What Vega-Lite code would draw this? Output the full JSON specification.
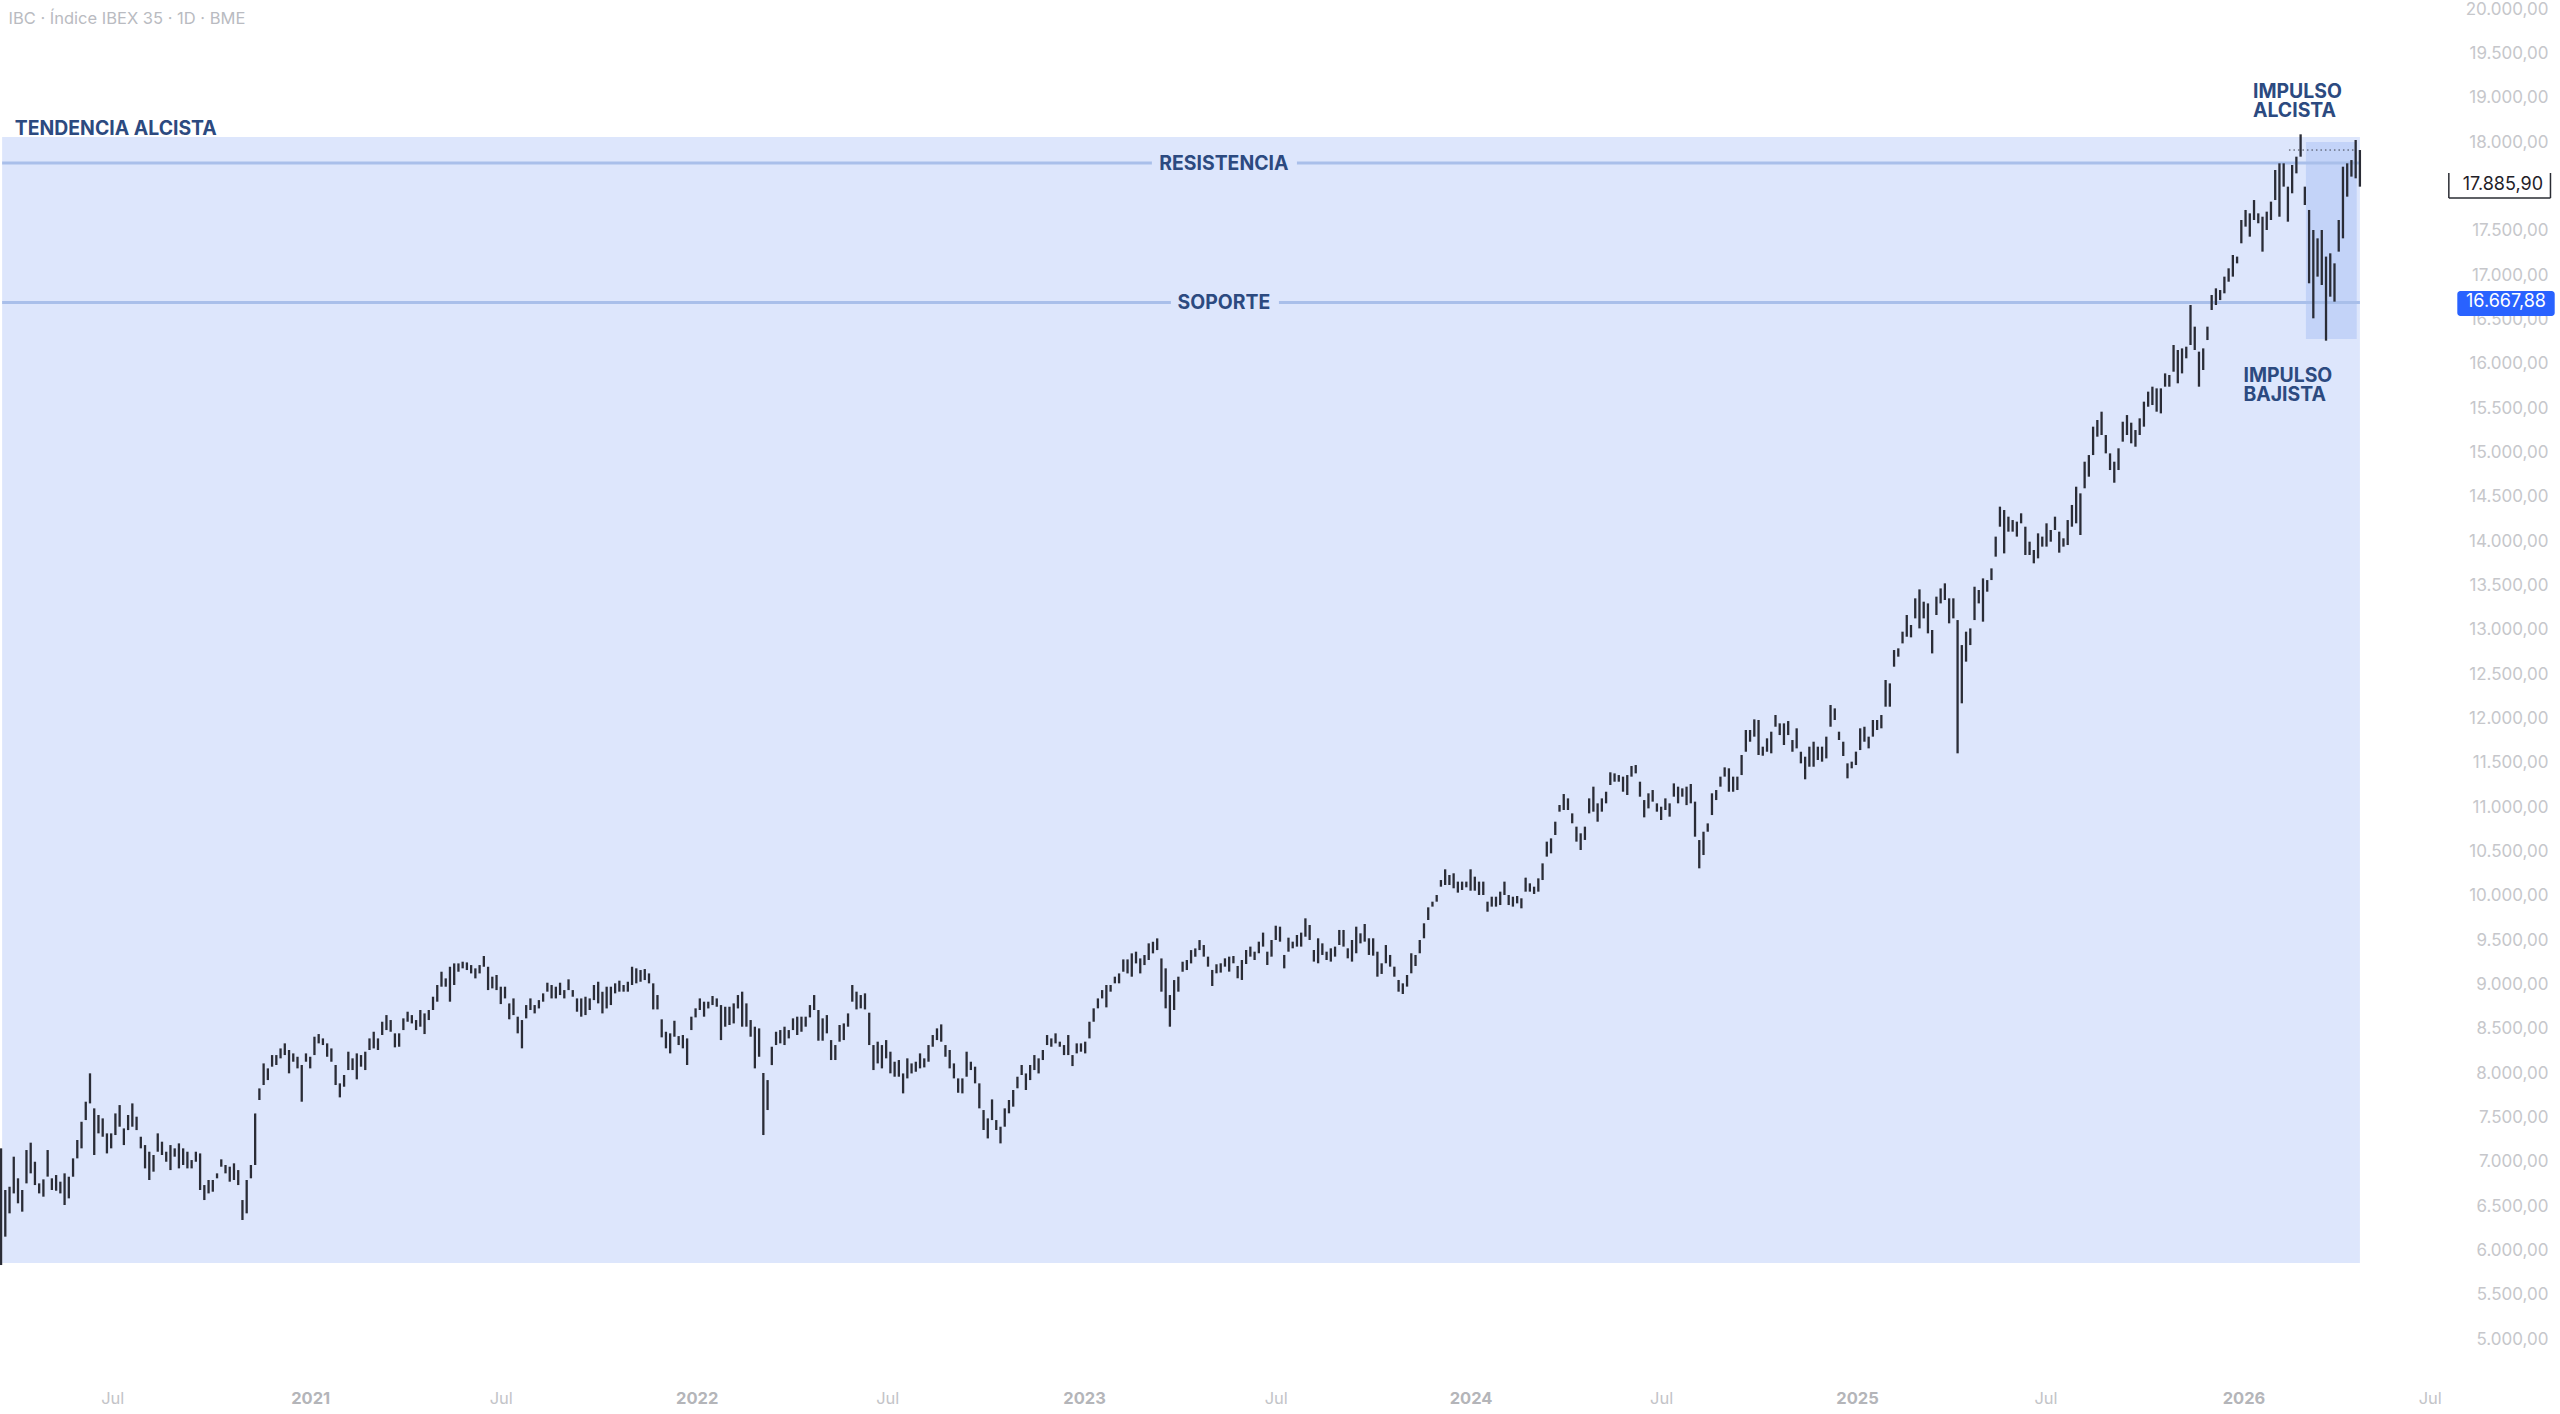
{
"$schema":"https://vega.github.io/schema/vega-lite/v6.json",
"width":2560,"height":1414,"padding":0,"autosize":{"type":"none"},"background":"#ffffff",
"config":{"view":{"stroke":null},"locale":{"number":{"decimal":",","thousands":".","grouping":[3],"currency":["","€"]}},"text":{"font":"Inter"},"axis":{"labelFont":"Inter"}},
"datasets":{"candles":[
{"t":"2020-03-15","lo":5812,"hi":7128},{"t":"2020-03-19","lo":6132,"hi":6658},{"t":"2020-03-23","lo":6395,"hi":6695},{"t":"2020-03-27","lo":6620,"hi":7034},{"t":"2020-03-31","lo":6508,"hi":6790},{"t":"2020-04-04","lo":6414,"hi":6658},{"t":"2020-04-08","lo":6733,"hi":7109},{"t":"2020-04-12","lo":6846,"hi":7192},{"t":"2020-04-16","lo":6714,"hi":6977},{"t":"2020-04-20","lo":6620,"hi":6733},{"t":"2020-04-24","lo":6583,"hi":6778},{"t":"2020-04-28","lo":6809,"hi":7109},
{"t":"2020-05-02","lo":6658,"hi":6790},{"t":"2020-05-06","lo":6650,"hi":6827},{"t":"2020-05-10","lo":6620,"hi":6752},{"t":"2020-05-14","lo":6489,"hi":6846},{"t":"2020-05-18","lo":6564,"hi":6808},{"t":"2020-05-22","lo":6808,"hi":7015},{"t":"2020-05-26","lo":7015,"hi":7222},{"t":"2020-05-30","lo":7128,"hi":7428},{"t":"2020-06-03","lo":7447,"hi":7654},{"t":"2020-06-07","lo":7635,"hi":7974},{"t":"2020-06-11","lo":7053,"hi":7579},{"t":"2020-06-15","lo":7297,"hi":7504},{"t":"2020-06-19","lo":7259,"hi":7466},{"t":"2020-06-23","lo":7071,"hi":7297},{"t":"2020-06-27","lo":7128,"hi":7297},
{"t":"2020-07-01","lo":7278,"hi":7522},{"t":"2020-07-05","lo":7372,"hi":7616},{"t":"2020-07-09","lo":7165,"hi":7353},{"t":"2020-07-13","lo":7334,"hi":7504},{"t":"2020-07-17","lo":7372,"hi":7635},{"t":"2020-07-21","lo":7334,"hi":7485},{"t":"2020-07-25","lo":7128,"hi":7259},{"t":"2020-07-29","lo":6902,"hi":7165},{"t":"2020-08-02","lo":6771,"hi":7090},{"t":"2020-08-06","lo":6865,"hi":7053},{"t":"2020-08-10","lo":7090,"hi":7297},{"t":"2020-08-14","lo":7053,"hi":7203},{"t":"2020-08-18","lo":6977,"hi":7090},{"t":"2020-08-22","lo":6883,"hi":7165},{"t":"2020-08-26","lo":7034,"hi":7128},{"t":"2020-08-30","lo":6902,"hi":7184},
{"t":"2020-09-03","lo":6940,"hi":7128},{"t":"2020-09-07","lo":6902,"hi":7090},{"t":"2020-09-11","lo":6902,"hi":6996},{"t":"2020-09-15","lo":6977,"hi":7090},{"t":"2020-09-19","lo":6658,"hi":7071},{"t":"2020-09-23","lo":6545,"hi":6714},{"t":"2020-09-27","lo":6620,"hi":6771},{"t":"2020-10-01","lo":6639,"hi":6771},{"t":"2020-10-05","lo":6790,"hi":6846},{"t":"2020-10-09","lo":6921,"hi":7004},{"t":"2020-10-13","lo":6846,"hi":6940},{"t":"2020-10-17","lo":6752,"hi":6921},{"t":"2020-10-21","lo":6771,"hi":6959},{"t":"2020-10-25","lo":6714,"hi":6883},{"t":"2020-10-29","lo":6320,"hi":6545},
{"t":"2020-11-02","lo":6395,"hi":6771},{"t":"2020-11-06","lo":6790,"hi":6940},{"t":"2020-11-10","lo":6940,"hi":7522},{"t":"2020-11-14","lo":7673,"hi":7804},{"t":"2020-11-18","lo":7842,"hi":8086},{"t":"2020-11-22","lo":7898,"hi":8030},{"t":"2020-11-26","lo":8049,"hi":8180},{"t":"2020-11-30","lo":8068,"hi":8180},{"t":"2020-12-04","lo":8143,"hi":8255},{"t":"2020-12-08","lo":8180,"hi":8312},{"t":"2020-12-12","lo":7974,"hi":8237},{"t":"2020-12-16","lo":8105,"hi":8199},{"t":"2020-12-20","lo":8030,"hi":8161},{"t":"2020-12-24","lo":7654,"hi":8068},{"t":"2020-12-28","lo":8105,"hi":8199},
{"t":"2021-01-01","lo":8030,"hi":8161},{"t":"2021-01-05","lo":8180,"hi":8387},{"t":"2021-01-09","lo":8312,"hi":8417},{"t":"2021-01-13","lo":8293,"hi":8368},{"t":"2021-01-17","lo":8161,"hi":8312},{"t":"2021-01-21","lo":8105,"hi":8255},{"t":"2021-01-25","lo":7842,"hi":8068},{"t":"2021-01-29","lo":7703,"hi":7861},{"t":"2021-02-02","lo":7823,"hi":7955},{"t":"2021-02-06","lo":8011,"hi":8218},{"t":"2021-02-10","lo":8011,"hi":8143},{"t":"2021-02-14","lo":7906,"hi":8199},{"t":"2021-02-18","lo":8049,"hi":8180},{"t":"2021-02-22","lo":8011,"hi":8218},{"t":"2021-02-26","lo":8237,"hi":8368},
{"t":"2021-03-02","lo":8255,"hi":8443},{"t":"2021-03-06","lo":8237,"hi":8368},{"t":"2021-03-10","lo":8406,"hi":8556},{"t":"2021-03-14","lo":8462,"hi":8631},{"t":"2021-03-18","lo":8443,"hi":8575},{"t":"2021-03-22","lo":8267,"hi":8425},{"t":"2021-03-26","lo":8274,"hi":8425},{"t":"2021-03-30","lo":8462,"hi":8594},{"t":"2021-04-03","lo":8556,"hi":8669},{"t":"2021-04-07","lo":8537,"hi":8631},{"t":"2021-04-11","lo":8462,"hi":8575},{"t":"2021-04-15","lo":8500,"hi":8688},{"t":"2021-04-19","lo":8417,"hi":8650},{"t":"2021-04-23","lo":8575,"hi":8688},{"t":"2021-04-27","lo":8688,"hi":8838},
{"t":"2021-05-01","lo":8782,"hi":8970},{"t":"2021-05-05","lo":8951,"hi":9120},{"t":"2021-05-09","lo":8951,"hi":9045},{"t":"2021-05-13","lo":8782,"hi":9176},{"t":"2021-05-17","lo":8970,"hi":9214},{"t":"2021-05-21","lo":9120,"hi":9214},{"t":"2021-05-25","lo":9158,"hi":9233},{"t":"2021-05-29","lo":9139,"hi":9225},{"t":"2021-06-02","lo":9101,"hi":9195},{"t":"2021-06-06","lo":9045,"hi":9158},{"t":"2021-06-10","lo":9101,"hi":9195},{"t":"2021-06-14","lo":9176,"hi":9297},{"t":"2021-06-18","lo":8913,"hi":9176},{"t":"2021-06-22","lo":8932,"hi":9064},{"t":"2021-06-26","lo":8913,"hi":9083},{"t":"2021-06-30","lo":8755,"hi":8951},
{"t":"2021-07-04","lo":8819,"hi":8951},{"t":"2021-07-08","lo":8583,"hi":8763},{"t":"2021-07-12","lo":8631,"hi":8819},{"t":"2021-07-16","lo":8425,"hi":8613},{"t":"2021-07-20","lo":8256,"hi":8575},{"t":"2021-07-24","lo":8594,"hi":8744},{"t":"2021-07-28","lo":8688,"hi":8819},{"t":"2021-08-01","lo":8650,"hi":8744},{"t":"2021-08-05","lo":8706,"hi":8800},{"t":"2021-08-09","lo":8782,"hi":8876},{"t":"2021-08-13","lo":8895,"hi":8996},{"t":"2021-08-17","lo":8819,"hi":8970},{"t":"2021-08-21","lo":8819,"hi":8951},{"t":"2021-08-25","lo":8857,"hi":8996},{"t":"2021-08-29","lo":8819,"hi":8913},
{"t":"2021-09-02","lo":8913,"hi":9034},{"t":"2021-09-06","lo":8838,"hi":8913},{"t":"2021-09-10","lo":8669,"hi":8819},{"t":"2021-09-14","lo":8613,"hi":8819},{"t":"2021-09-18","lo":8631,"hi":8838},{"t":"2021-09-22","lo":8688,"hi":8819},{"t":"2021-09-26","lo":8800,"hi":8970},{"t":"2021-09-30","lo":8763,"hi":9007},{"t":"2021-10-04","lo":8650,"hi":8894},{"t":"2021-10-08","lo":8706,"hi":8951},{"t":"2021-10-12","lo":8744,"hi":8951},{"t":"2021-10-16","lo":8876,"hi":8989},{"t":"2021-10-20","lo":8895,"hi":9019},{"t":"2021-10-24","lo":8895,"hi":8970},{"t":"2021-10-28","lo":8895,"hi":9007},
{"t":"2021-11-01","lo":8970,"hi":9176},{"t":"2021-11-05","lo":8989,"hi":9158},{"t":"2021-11-09","lo":9007,"hi":9139},{"t":"2021-11-13","lo":9026,"hi":9150},{"t":"2021-11-17","lo":8989,"hi":9101},{"t":"2021-11-21","lo":8695,"hi":8989},{"t":"2021-11-25","lo":8695,"hi":8857},{"t":"2021-11-29","lo":8380,"hi":8583},{"t":"2021-12-03","lo":8256,"hi":8443},{"t":"2021-12-07","lo":8199,"hi":8425},{"t":"2021-12-11","lo":8387,"hi":8567},{"t":"2021-12-15","lo":8293,"hi":8394},{"t":"2021-12-19","lo":8256,"hi":8406},{"t":"2021-12-23","lo":8068,"hi":8368},{"t":"2021-12-27","lo":8462,"hi":8613},{"t":"2021-12-31","lo":8605,"hi":8707},
{"t":"2022-01-04","lo":8688,"hi":8819},{"t":"2022-01-08","lo":8613,"hi":8782},{"t":"2022-01-12","lo":8706,"hi":8782},{"t":"2022-01-16","lo":8744,"hi":8846},{"t":"2022-01-20","lo":8725,"hi":8819},{"t":"2022-01-24","lo":8349,"hi":8744},{"t":"2022-01-28","lo":8500,"hi":8725},{"t":"2022-02-01","lo":8519,"hi":8725},{"t":"2022-02-05","lo":8537,"hi":8763},{"t":"2022-02-09","lo":8706,"hi":8857},{"t":"2022-02-13","lo":8500,"hi":8895},{"t":"2022-02-17","lo":8500,"hi":8763},{"t":"2022-02-21","lo":8387,"hi":8575},{"t":"2022-02-25","lo":8030,"hi":8500},{"t":"2022-03-01","lo":8161,"hi":8481},{"t":"2022-03-05","lo":7278,"hi":7978},{"t":"2022-03-09","lo":7560,"hi":7898},{"t":"2022-03-13","lo":8067,"hi":8274},{"t":"2022-03-17","lo":8293,"hi":8443},{"t":"2022-03-21","lo":8312,"hi":8462},{"t":"2022-03-25","lo":8293,"hi":8500},{"t":"2022-03-29","lo":8368,"hi":8462},{"t":"2022-04-02","lo":8462,"hi":8594},{"t":"2022-04-06","lo":8406,"hi":8613},
{"t":"2022-04-10","lo":8443,"hi":8613},{"t":"2022-04-14","lo":8500,"hi":8613},{"t":"2022-04-18","lo":8605,"hi":8744},{"t":"2022-04-22","lo":8688,"hi":8857},{"t":"2022-04-26","lo":8342,"hi":8688},{"t":"2022-04-30","lo":8342,"hi":8594},{"t":"2022-05-04","lo":8425,"hi":8631},{"t":"2022-05-08","lo":8124,"hi":8349},{"t":"2022-05-12","lo":8124,"hi":8293},{"t":"2022-05-16","lo":8331,"hi":8519},{"t":"2022-05-20","lo":8349,"hi":8537},{"t":"2022-05-24","lo":8500,"hi":8650},{"t":"2022-05-28","lo":8782,"hi":8970},{"t":"2022-06-01","lo":8695,"hi":8895},{"t":"2022-06-05","lo":8707,"hi":8857},{"t":"2022-06-09","lo":8695,"hi":8876},{"t":"2022-06-13","lo":8293,"hi":8658},{"t":"2022-06-17","lo":8011,"hi":8293},{"t":"2022-06-21","lo":8086,"hi":8331},{"t":"2022-06-25","lo":8030,"hi":8293},{"t":"2022-06-29","lo":8143,"hi":8349},
{"t":"2022-07-03","lo":7974,"hi":8218},{"t":"2022-07-07","lo":7936,"hi":8105},{"t":"2022-07-11","lo":7936,"hi":8124},{"t":"2022-07-15","lo":7748,"hi":7973},{"t":"2022-07-19","lo":7917,"hi":8143},{"t":"2022-07-23","lo":7973,"hi":8086},{"t":"2022-07-27","lo":7992,"hi":8105},{"t":"2022-07-31","lo":8030,"hi":8199},{"t":"2022-08-04","lo":8041,"hi":8143},{"t":"2022-08-08","lo":8105,"hi":8293},{"t":"2022-08-12","lo":8274,"hi":8406},{"t":"2022-08-16","lo":8349,"hi":8481},{"t":"2022-08-20","lo":8331,"hi":8526},{"t":"2022-08-24","lo":8161,"hi":8293},{"t":"2022-08-28","lo":8030,"hi":8237},
{"t":"2022-09-01","lo":7917,"hi":8086},{"t":"2022-09-05","lo":7755,"hi":7917},{"t":"2022-09-09","lo":7748,"hi":7917},{"t":"2022-09-13","lo":7936,"hi":8218},{"t":"2022-09-17","lo":8011,"hi":8105},{"t":"2022-09-21","lo":7861,"hi":8049},{"t":"2022-09-25","lo":7579,"hi":7861},{"t":"2022-09-29","lo":7335,"hi":7560},{"t":"2022-10-03","lo":7240,"hi":7466},{"t":"2022-10-07","lo":7447,"hi":7680},{"t":"2022-10-11","lo":7335,"hi":7447},{"t":"2022-10-15","lo":7184,"hi":7372},{"t":"2022-10-19","lo":7372,"hi":7579},{"t":"2022-10-23","lo":7523,"hi":7673},{"t":"2022-10-27","lo":7598,"hi":7786},{"t":"2022-10-31","lo":7805,"hi":7936},
{"t":"2022-11-04","lo":7955,"hi":8068},{"t":"2022-11-08","lo":7786,"hi":7973},{"t":"2022-11-12","lo":7898,"hi":8068},{"t":"2022-11-16","lo":8011,"hi":8180},{"t":"2022-11-20","lo":7973,"hi":8143},{"t":"2022-11-24","lo":8124,"hi":8237},{"t":"2022-11-28","lo":8293,"hi":8406},{"t":"2022-12-02","lo":8274,"hi":8368},{"t":"2022-12-06","lo":8312,"hi":8425},{"t":"2022-12-10","lo":8274,"hi":8331},{"t":"2022-12-14","lo":8180,"hi":8293},{"t":"2022-12-18","lo":8180,"hi":8406},{"t":"2022-12-22","lo":8056,"hi":8180},{"t":"2022-12-26","lo":8199,"hi":8312},{"t":"2022-12-30","lo":8218,"hi":8312},
{"t":"2023-01-03","lo":8199,"hi":8331},{"t":"2023-01-07","lo":8368,"hi":8556},{"t":"2023-01-11","lo":8556,"hi":8707},{"t":"2023-01-15","lo":8707,"hi":8819},{"t":"2023-01-19","lo":8819,"hi":8913},{"t":"2023-01-23","lo":8718,"hi":8970},{"t":"2023-01-27","lo":8895,"hi":8970},{"t":"2023-01-31","lo":8989,"hi":9064},{"t":"2023-02-04","lo":8989,"hi":9101},{"t":"2023-02-08","lo":9120,"hi":9259},{"t":"2023-02-12","lo":9101,"hi":9259},{"t":"2023-02-16","lo":9064,"hi":9327},{"t":"2023-02-20","lo":9214,"hi":9346},{"t":"2023-02-24","lo":9101,"hi":9270},{"t":"2023-02-28","lo":9195,"hi":9308},
{"t":"2023-03-04","lo":9252,"hi":9440},{"t":"2023-03-08","lo":9327,"hi":9458},{"t":"2023-03-12","lo":9364,"hi":9496},{"t":"2023-03-16","lo":8895,"hi":9270},{"t":"2023-03-20","lo":8707,"hi":9158},{"t":"2023-03-24","lo":8500,"hi":8857},{"t":"2023-03-28","lo":8688,"hi":9026},{"t":"2023-04-01","lo":8895,"hi":9064},{"t":"2023-04-05","lo":9120,"hi":9233},{"t":"2023-04-09","lo":9139,"hi":9252},{"t":"2023-04-13","lo":9214,"hi":9364},{"t":"2023-04-17","lo":9289,"hi":9383},{"t":"2023-04-21","lo":9364,"hi":9477},{"t":"2023-04-25","lo":9290,"hi":9421},{"t":"2023-04-29","lo":9177,"hi":9290},
{"t":"2023-05-03","lo":8959,"hi":9140},{"t":"2023-05-07","lo":9102,"hi":9204},{"t":"2023-05-11","lo":9110,"hi":9215},{"t":"2023-05-15","lo":9177,"hi":9271},{"t":"2023-05-19","lo":9121,"hi":9290},{"t":"2023-05-23","lo":9215,"hi":9297},{"t":"2023-05-27","lo":9046,"hi":9185},{"t":"2023-05-31","lo":9027,"hi":9252},{"t":"2023-06-04","lo":9207,"hi":9365},{"t":"2023-06-08","lo":9290,"hi":9403},{"t":"2023-06-12","lo":9252,"hi":9346},{"t":"2023-06-16","lo":9328,"hi":9459},{"t":"2023-06-20","lo":9403,"hi":9561},{"t":"2023-06-24","lo":9196,"hi":9346},{"t":"2023-06-28","lo":9290,"hi":9478},
{"t":"2023-07-02","lo":9478,"hi":9639},{"t":"2023-07-06","lo":9459,"hi":9628},{"t":"2023-07-10","lo":9158,"hi":9309},{"t":"2023-07-14","lo":9346,"hi":9504},{"t":"2023-07-18","lo":9384,"hi":9459},{"t":"2023-07-22","lo":9403,"hi":9534},{"t":"2023-07-26","lo":9403,"hi":9561},{"t":"2023-07-30","lo":9515,"hi":9722},{"t":"2023-08-03","lo":9478,"hi":9647},{"t":"2023-08-07","lo":9234,"hi":9365},{"t":"2023-08-11","lo":9215,"hi":9497},{"t":"2023-08-15","lo":9309,"hi":9440},{"t":"2023-08-19","lo":9252,"hi":9346},{"t":"2023-08-23","lo":9234,"hi":9384},{"t":"2023-08-27","lo":9290,"hi":9403},{"t":"2023-08-31","lo":9421,"hi":9591},
{"t":"2023-09-04","lo":9403,"hi":9591},{"t":"2023-09-08","lo":9271,"hi":9384},{"t":"2023-09-12","lo":9234,"hi":9478},{"t":"2023-09-16","lo":9328,"hi":9628},{"t":"2023-09-20","lo":9440,"hi":9553},{"t":"2023-09-24","lo":9459,"hi":9658},{"t":"2023-09-28","lo":9309,"hi":9497},{"t":"2023-10-02","lo":9301,"hi":9497},{"t":"2023-10-06","lo":9064,"hi":9346},{"t":"2023-10-10","lo":9095,"hi":9215},{"t":"2023-10-14","lo":9215,"hi":9421},{"t":"2023-10-18","lo":9177,"hi":9309},{"t":"2023-10-22","lo":9064,"hi":9177},{"t":"2023-10-26","lo":8895,"hi":9027},{"t":"2023-10-30","lo":8869,"hi":8989},
{"t":"2023-11-03","lo":8952,"hi":9083},{"t":"2023-11-07","lo":9102,"hi":9328},{"t":"2023-11-11","lo":9185,"hi":9309},{"t":"2023-11-15","lo":9328,"hi":9478},{"t":"2023-11-19","lo":9497,"hi":9666},{"t":"2023-11-23","lo":9703,"hi":9846},{"t":"2023-11-27","lo":9854,"hi":9910},{"t":"2023-12-01","lo":9910,"hi":9985},{"t":"2023-12-05","lo":10079,"hi":10154},{"t":"2023-12-09","lo":10098,"hi":10275},{"t":"2023-12-13","lo":10098,"hi":10211},{"t":"2023-12-17","lo":10061,"hi":10230},{"t":"2023-12-21","lo":10012,"hi":10136},{"t":"2023-12-25","lo":10042,"hi":10136},{"t":"2023-12-29","lo":10072,"hi":10136},
{"t":"2024-01-02","lo":10034,"hi":10275},{"t":"2024-01-06","lo":10034,"hi":10192},{"t":"2024-01-10","lo":9985,"hi":10136},{"t":"2024-01-14","lo":9985,"hi":10136},{"t":"2024-01-18","lo":9797,"hi":9910},{"t":"2024-01-22","lo":9854,"hi":9966},{"t":"2024-01-26","lo":9854,"hi":9966},{"t":"2024-01-30","lo":9872,"hi":10023},{"t":"2024-02-03","lo":9985,"hi":10136},{"t":"2024-02-07","lo":9872,"hi":9985},{"t":"2024-02-11","lo":9854,"hi":9966},{"t":"2024-02-15","lo":9891,"hi":9974},{"t":"2024-02-19","lo":9835,"hi":9948},{"t":"2024-02-23","lo":10023,"hi":10181},{"t":"2024-02-27","lo":10023,"hi":10117},
{"t":"2024-03-02","lo":9997,"hi":10079},{"t":"2024-03-06","lo":10023,"hi":10173},{"t":"2024-03-10","lo":10154,"hi":10342},{"t":"2024-03-14","lo":10418,"hi":10587},{"t":"2024-03-18","lo":10455,"hi":10624},{"t":"2024-03-22","lo":10662,"hi":10812},{"t":"2024-03-26","lo":10925,"hi":11000},{"t":"2024-03-30","lo":10944,"hi":11124},{"t":"2024-04-03","lo":10944,"hi":11075},{"t":"2024-04-07","lo":10794,"hi":10906},{"t":"2024-04-11","lo":10587,"hi":10756},{"t":"2024-04-15","lo":10493,"hi":10681},{"t":"2024-04-19","lo":10606,"hi":10756},{"t":"2024-04-23","lo":10906,"hi":11075},{"t":"2024-04-27","lo":10925,"hi":11207},
{"t":"2024-05-01","lo":10812,"hi":11019},{"t":"2024-05-05","lo":10925,"hi":11075},{"t":"2024-05-09","lo":11019,"hi":11150},{"t":"2024-05-13","lo":11226,"hi":11369},{"t":"2024-05-17","lo":11263,"hi":11357},{"t":"2024-05-21","lo":11263,"hi":11338},{"t":"2024-05-25","lo":11150,"hi":11320},{"t":"2024-05-29","lo":11113,"hi":11338},{"t":"2024-06-02","lo":11320,"hi":11440},{"t":"2024-06-06","lo":11357,"hi":11451},{"t":"2024-06-10","lo":11094,"hi":11263},{"t":"2024-06-14","lo":10861,"hi":11056},{"t":"2024-06-18","lo":10962,"hi":11132},{"t":"2024-06-22","lo":11038,"hi":11169},{"t":"2024-06-26","lo":10925,"hi":11019},{"t":"2024-06-30","lo":10831,"hi":10981},
{"t":"2024-07-04","lo":10944,"hi":11075},{"t":"2024-07-08","lo":10869,"hi":11019},{"t":"2024-07-12","lo":11094,"hi":11244},{"t":"2024-07-16","lo":11019,"hi":11207},{"t":"2024-07-20","lo":11094,"hi":11188},{"t":"2024-07-24","lo":10999,"hi":11207},{"t":"2024-07-28","lo":11019,"hi":11237},{"t":"2024-08-01","lo":10643,"hi":11038},{"t":"2024-08-05","lo":10286,"hi":10605},{"t":"2024-08-09","lo":10436,"hi":10699},{"t":"2024-08-13","lo":10699,"hi":10793},{"t":"2024-08-17","lo":10887,"hi":11132},{"t":"2024-08-21","lo":11056,"hi":11169},{"t":"2024-08-25","lo":11207,"hi":11320},{"t":"2024-08-29","lo":11320,"hi":11425},
{"t":"2024-09-02","lo":11150,"hi":11414},{"t":"2024-09-06","lo":11150,"hi":11320},{"t":"2024-09-10","lo":11169,"hi":11320},{"t":"2024-09-14","lo":11338,"hi":11564},{"t":"2024-09-18","lo":11601,"hi":11846},{"t":"2024-09-22","lo":11714,"hi":11846},{"t":"2024-09-26","lo":11771,"hi":11966},{"t":"2024-09-30","lo":11564,"hi":11959},{"t":"2024-10-04","lo":11556,"hi":11658},{"t":"2024-10-08","lo":11601,"hi":11752},{"t":"2024-10-12","lo":11583,"hi":11827},{"t":"2024-10-16","lo":11883,"hi":12015},{"t":"2024-10-20","lo":11789,"hi":11921},{"t":"2024-10-24","lo":11677,"hi":11921},{"t":"2024-10-28","lo":11789,"hi":11947},
{"t":"2024-11-01","lo":11601,"hi":11733},{"t":"2024-11-05","lo":11639,"hi":11865},{"t":"2024-11-09","lo":11470,"hi":11601},{"t":"2024-11-13","lo":11290,"hi":11545},{"t":"2024-11-17","lo":11432,"hi":11658},{"t":"2024-11-21","lo":11432,"hi":11714},{"t":"2024-11-25","lo":11508,"hi":11658},{"t":"2024-11-29","lo":11489,"hi":11658},{"t":"2024-12-03","lo":11526,"hi":11771},{"t":"2024-12-07","lo":11883,"hi":12128},{"t":"2024-12-11","lo":11959,"hi":12090},{"t":"2024-12-15","lo":11733,"hi":11827},{"t":"2024-12-19","lo":11553,"hi":11714},{"t":"2024-12-23","lo":11301,"hi":11470},{"t":"2024-12-27","lo":11414,"hi":11489},{"t":"2024-12-31","lo":11451,"hi":11602},
{"t":"2025-01-04","lo":11620,"hi":11865},{"t":"2025-01-08","lo":11714,"hi":11883},{"t":"2025-01-12","lo":11639,"hi":11771},{"t":"2025-01-16","lo":11771,"hi":11959},{"t":"2025-01-20","lo":11846,"hi":11959},{"t":"2025-01-24","lo":11865,"hi":12015},{"t":"2025-01-28","lo":12109,"hi":12410},{"t":"2025-02-01","lo":12109,"hi":12372},{"t":"2025-02-05","lo":12560,"hi":12748},{"t":"2025-02-09","lo":12673,"hi":12767},{"t":"2025-02-13","lo":12823,"hi":12955},{"t":"2025-02-17","lo":12898,"hi":13143},{"t":"2025-02-21","lo":12891,"hi":13030},{"t":"2025-02-25","lo":13105,"hi":13331},
{"t":"2025-03-01","lo":12992,"hi":13432},{"t":"2025-03-05","lo":13105,"hi":13293},{"t":"2025-03-09","lo":12936,"hi":13274},{"t":"2025-03-13","lo":12710,"hi":12974},{"t":"2025-03-17","lo":13143,"hi":13350},{"t":"2025-03-21","lo":13274,"hi":13443},{"t":"2025-03-25","lo":13312,"hi":13500},{"t":"2025-03-29","lo":13049,"hi":13331},{"t":"2025-04-02","lo":13105,"hi":13331},{"t":"2025-04-06","lo":11583,"hi":13086},{"t":"2025-04-10","lo":12147,"hi":12804},{"t":"2025-04-14","lo":12617,"hi":12955},{"t":"2025-04-18","lo":12804,"hi":12992},{"t":"2025-04-22","lo":13086,"hi":13462},{"t":"2025-04-26","lo":13274,"hi":13425},{"t":"2025-04-30","lo":13068,"hi":13556},
{"t":"2025-05-04","lo":13406,"hi":13537},{"t":"2025-05-08","lo":13537,"hi":13669},{"t":"2025-05-12","lo":13801,"hi":14027},{"t":"2025-05-16","lo":14139,"hi":14365},{"t":"2025-05-20","lo":13838,"hi":14327},{"t":"2025-05-24","lo":14083,"hi":14252},{"t":"2025-05-28","lo":14083,"hi":14214},{"t":"2025-06-01","lo":14027,"hi":14196},{"t":"2025-06-05","lo":14177,"hi":14290},{"t":"2025-06-09","lo":13820,"hi":14139},{"t":"2025-06-13","lo":13820,"hi":13970},{"t":"2025-06-17","lo":13726,"hi":13876},{"t":"2025-06-21","lo":13782,"hi":14064},{"t":"2025-06-25","lo":13914,"hi":14027},{"t":"2025-06-29","lo":13914,"hi":14177},
{"t":"2025-07-03","lo":13970,"hi":14102},{"t":"2025-07-07","lo":14102,"hi":14252},{"t":"2025-07-11","lo":13846,"hi":14083},{"t":"2025-07-15","lo":13914,"hi":14008},{"t":"2025-07-19","lo":13932,"hi":14214},{"t":"2025-07-23","lo":14139,"hi":14384},{"t":"2025-07-27","lo":14177,"hi":14590},{"t":"2025-07-31","lo":14045,"hi":14515},{"t":"2025-08-04","lo":14572,"hi":14872},{"t":"2025-08-08","lo":14703,"hi":14947},{"t":"2025-08-12","lo":14947,"hi":15267},{"t":"2025-08-16","lo":15154,"hi":15342},{"t":"2025-08-20","lo":15173,"hi":15436},{"t":"2025-08-24","lo":14966,"hi":15173},{"t":"2025-08-28","lo":14778,"hi":14966},
{"t":"2025-09-01","lo":14635,"hi":14872},{"t":"2025-09-05","lo":14778,"hi":15023},{"t":"2025-09-09","lo":15098,"hi":15323},{"t":"2025-09-13","lo":15173,"hi":15398},{"t":"2025-09-17","lo":15079,"hi":15312},{"t":"2025-09-21","lo":15041,"hi":15229},{"t":"2025-09-25","lo":15173,"hi":15361},{"t":"2025-09-29","lo":15267,"hi":15549},{"t":"2025-10-03","lo":15492,"hi":15662},{"t":"2025-10-07","lo":15511,"hi":15718},{"t":"2025-10-11","lo":15436,"hi":15699},{"t":"2025-10-15","lo":15417,"hi":15699},{"t":"2025-10-19","lo":15718,"hi":15868},{"t":"2025-10-23","lo":15718,"hi":15850},{"t":"2025-10-27","lo":15887,"hi":16188},{"t":"2025-10-31","lo":15756,"hi":16132},
{"t":"2025-11-04","lo":15868,"hi":16150},{"t":"2025-11-08","lo":16038,"hi":16169},{"t":"2025-11-12","lo":16188,"hi":16639},{"t":"2025-11-16","lo":16132,"hi":16395},{"t":"2025-11-20","lo":15718,"hi":16113},{"t":"2025-11-24","lo":15906,"hi":16150},{"t":"2025-11-28","lo":16244,"hi":16395},{"t":"2025-12-02","lo":16583,"hi":16752},{"t":"2025-12-06","lo":16639,"hi":16827},{"t":"2025-12-10","lo":16695,"hi":16808},{"t":"2025-12-14","lo":16771,"hi":16959},{"t":"2025-12-18","lo":16902,"hi":17053},{"t":"2025-12-22","lo":16959,"hi":17203},{"t":"2025-12-26","lo":17109,"hi":17185},{"t":"2025-12-30","lo":17335,"hi":17598},
{"t":"2026-01-03","lo":17523,"hi":17711},{"t":"2026-01-07","lo":17410,"hi":17673},{"t":"2026-01-11","lo":17598,"hi":17823},{"t":"2026-01-15","lo":17561,"hi":17673},{"t":"2026-01-19","lo":17241,"hi":17635},{"t":"2026-01-23","lo":17485,"hi":17692},{"t":"2026-01-27","lo":17598,"hi":17805},{"t":"2026-01-31","lo":17823,"hi":18162},{"t":"2026-02-04","lo":17635,"hi":18237},{"t":"2026-02-08","lo":17974,"hi":18237},{"t":"2026-02-12","lo":17579,"hi":17974},{"t":"2026-02-16","lo":17899,"hi":18218},{"t":"2026-02-20","lo":18124,"hi":18312},{"t":"2026-02-24","lo":18312,"hi":18564},{"t":"2026-02-28","lo":17767,"hi":17974},
{"t":"2026-03-04","lo":16884,"hi":17711},{"t":"2026-03-08","lo":16489,"hi":17485},{"t":"2026-03-12","lo":16959,"hi":17391},{"t":"2026-03-16","lo":16865,"hi":17485},{"t":"2026-03-20","lo":16237,"hi":17185},{"t":"2026-03-24","lo":16733,"hi":17222},{"t":"2026-03-28","lo":16677,"hi":17109},{"t":"2026-04-01","lo":17241,"hi":17598},{"t":"2026-04-05","lo":17391,"hi":18199},{"t":"2026-04-09","lo":17861,"hi":18237},{"t":"2026-04-13","lo":18087,"hi":18274},{"t":"2026-04-17","lo":18068,"hi":18500},{"t":"2026-04-21","lo":17974,"hi":18387}
]},
"encoding":{
"x":{"field":"t","type":"temporal","title":null,"scale":{"domain":["2020-03-14","2026-10-27"]},
"axis":{"orient":"bottom","domain":false,"ticks":false,"grid":false,"labelPadding":-16,"labelBaseline":"middle","labelFontSize":16.5,"labelOverlap":false,"labelFlush":false,"labelExpr":"month(datum.value)==0?timeFormat(datum.value,'%Y'):'Jul'","labelFontWeight":{"condition":{"test":"month(datum.value)==0","value":"bold"},"value":"normal"},"labelColor":{"condition":{"test":"month(datum.value)==0","value":"#b4b5b9"},"value":"#c3c4c8"},
"values":[{"year":2020,"month":6,"date":28},{"year":2021,"month":1,"date":1},{"year":2021,"month":6,"date":30},{"year":2022,"month":1,"date":1},{"year":2022,"month":6,"date":30},{"year":2023,"month":1,"date":2},{"year":2023,"month":7,"date":2},{"year":2024,"month":1,"date":2},{"year":2024,"month":6,"date":30},{"year":2025,"month":1,"date":1},{"year":2025,"month":6,"date":28},{"year":2026,"month":1,"date":1},{"year":2026,"month":6,"date":26}]}},
"y":{"field":"lo","type":"quantitative","title":null,"scale":{"domain":[4132,20079],"nice":false,"zero":false},
"axis":{"orient":"right","domain":false,"ticks":false,"grid":false,"labelPadding":-12,"labelAlign":"right","labelBaseline":"middle","labelFontSize":17,"labelOffset":2,"labelColor":"#c6c7cb","labelOverlap":false,"labelFlush":false,"format":",.2f","labelExpr":"datum.value==18500?'18.000,00':datum.label",
"values":[5000,5500,6000,6500,7000,7500,8000,8500,9000,9500,10000,10500,11000,11500,12000,12500,13000,13500,14000,14500,15000,15500,16000,16500,17000,17500,18500,19000,19500,20000]}}
},
"layer":[
{"data":{"values":[{"t":"2020-03-16","t2":"2026-04-21","lo":5835,"hi":18534}]},"mark":{"type":"rect","color":"#dde6fc"},"encoding":{"x2":{"field":"t2"},"y2":{"field":"hi"}}},
{"data":{"values":[{"t":"2026-03-01","t2":"2026-04-18","lo":16256,"hi":18478}]},"mark":{"type":"rect","color":"#c3d3f8"},"encoding":{"x2":{"field":"t2"},"y2":{"field":"hi"}}},
{"data":{"values":[{"t":"2020-03-16","t2":"2023-03-07","lo":18241},{"t":"2023-07-22","t2":"2026-04-21","lo":18241},{"t":"2020-03-16","t2":"2023-03-25","lo":16667.88},{"t":"2023-07-05","t2":"2026-04-21","lo":16667.88}]},"mark":{"type":"rule","color":"#a9bfea","strokeWidth":3},"encoding":{"x2":{"field":"t2"}}},
{"data":{"name":"candles"},"mark":{"type":"rule","color":"#2a2c36","strokeWidth":2.3},"encoding":{"y2":{"field":"hi"}}},
{"data":{"values":[{"t":"2026-02-13","t2":"2026-04-17","lo":18387}]},"mark":{"type":"rule","color":"#3a3d48","strokeWidth":1,"strokeDash":[1.5,3]},"encoding":{"x2":{"field":"t2"}}},
{"data":{"values":[{"t":"2020-03-28","lo":18635,"txt":"TENDENCIA ALCISTA"},{"t":"2026-01-10","lo":19053,"txt":"IMPULSO"},{"t":"2026-01-10","lo":18838,"txt":"ALCISTA"},{"t":"2026-01-01","lo":15850,"txt":"IMPULSO"},{"t":"2026-01-01","lo":15635,"txt":"BAJISTA"}]},"mark":{"type":"text","align":"left","baseline":"middle","dy":1,"font":"Inter","fontWeight":"bold","fontSize":19.4,"color":"#2c4a80"},"encoding":{"text":{"field":"txt"}}},
{"data":{"values":[{"t":"2023-05-14","lo":18241,"txt":"RESISTENCIA"},{"t":"2023-05-14","lo":16667.88,"txt":"SOPORTE"}]},"mark":{"type":"text","align":"center","baseline":"middle","dy":1,"font":"Inter","fontWeight":"bold","fontSize":19.4,"color":"#2c4a80"},"encoding":{"text":{"field":"txt"}}},
{"data":{"values":[{"t":"2020-03-22","lo":19876,"txt":"IBC · Índice IBEX 35 · 1D · BME"}]},"mark":{"type":"text","align":"left","baseline":"middle","dy":1,"font":"Inter","fontSize":16.5,"color":"#b9bbc1"},"encoding":{"text":{"field":"txt"}}},
{"data":{"values":[{"t":"2026-07-14","t2":"2026-10-18","lo":17846,"hi":18128}]},"mark":{"type":"rect","color":"#ffffff"},"encoding":{"x2":{"field":"t2"},"y2":{"field":"hi"}}},
{"data":{"values":[{"t":"2026-07-14","t2":"2026-10-18","lo":17846}]},"mark":{"type":"rule","color":"#2a2c33","strokeWidth":1.5},"encoding":{"x2":{"field":"t2"}}},
{"data":{"values":[{"t":"2026-07-14","lo":17846,"hi":18128},{"t":"2026-10-18","lo":17846,"hi":18128}]},"mark":{"type":"rule","color":"#2a2c33","strokeWidth":1.5},"encoding":{"y2":{"field":"hi"}}},
{"data":{"values":[{"t":"2026-09-03","lo":17993,"txt":"17.885,90"}]},"mark":{"type":"text","align":"center","baseline":"middle","font":"Inter","fontSize":18,"color":"#1f2128"},"encoding":{"text":{"field":"txt"}}},
{"data":{"values":[{"t":"2026-07-22","t2":"2026-10-22","lo":16515,"hi":16797}]},"mark":{"type":"rect","color":"#2962ff","cornerRadius":3},"encoding":{"x2":{"field":"t2"},"y2":{"field":"hi"}}},
{"data":{"values":[{"t":"2026-09-06","lo":16667.88,"txt":"16.667,88"}]},"mark":{"type":"text","align":"center","baseline":"middle","font":"Inter","fontSize":18,"color":"#ffffff"},"encoding":{"text":{"field":"txt"}}}
]
}
